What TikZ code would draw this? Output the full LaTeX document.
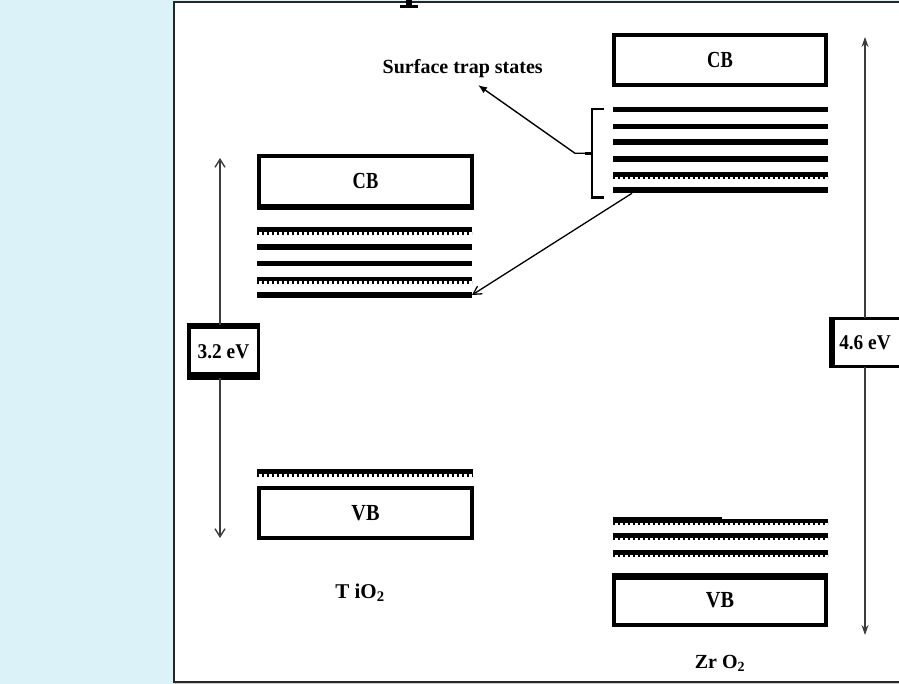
\documentclass[tikz,border=0pt]{standalone}
\usepackage{fontspec}
\setmainfont{Liberation Serif}
\usetikzlibrary{arrows.meta}
\definecolor{panelblue}{RGB}{218,242,248}
\definecolor{arrowgray}{RGB}{60,60,60}
\begin{document}
\begin{tikzpicture}[x=1pt,y=-1pt,
  band/.style={fill=black, draw=none, inner sep=0pt, outer sep=0pt, minimum height=5.5pt, minimum width=215pt},
  tickrow/.style={line width=3pt, dash pattern=on 1.6pt off 3.4pt},
  bandbox/.style={draw=black, fill=white, line width=4pt, inner sep=0pt, outer sep=0pt,
    minimum width=212pt, minimum height=50pt, font=\fontsize{23}{23}\selectfont\bfseries},
  gapbox/.style={draw=black, fill=white, line width=3.5pt, inner sep=0pt, outer sep=0pt,
    font=\fontsize{21}{21}\selectfont\bfseries},
  gaparrow/.style={draw=arrowgray, line width=1.4pt, -{Straight Barb[length=8pt,width=10pt]}},
  zrarrow/.style={draw=arrowgray, line width=1.4pt, -{Stealth[length=10pt,width=7pt]}},
  diagarrow/.style={draw=black, line width=1.3pt, -{Straight Barb[length=8pt,width=9pt]}},
  traparrow/.style={draw=black, line width=1.4pt, -{Latex[length=9pt,width=7pt]}},
  label/.style={font=\fontsize{21}{21}\selectfont\bfseries, inner sep=0pt}
]
\useasboundingbox (0,0) rectangle (899,684);
% background
\fill[panelblue] (0,0) rectangle (899,684);
\fill[white] (174,2.5) rectangle (899,681);
\fill[black!20] (174,682.5) rectangle (899,684);
\draw[line width=2pt, black!85] (899,2) -- (174,2) -- (174,681.5) -- (899,681.5);
% cut-off fragment of a title glyph at the top edge
\fill (405.5,0) rectangle (411.5,6);
\fill (400,5) rectangle (418,8);

% ---------------- TiO2 ----------------
\node[bandbox, minimum width=213pt] (tcb) at (365.5,181.5) {\scalebox{0.8}[1]{CB}};
\fill ([xshift=-2pt]tcb.south west) rectangle ([xshift=2pt,yshift=-4pt]tcb.south east);

\node[band, minimum height=5pt] (t1) at (364.5,230) {};
\node[band] (t2) at (364.5,247) {};
\node[band] (t3) at (364.5,263.7) {};
\node[band, minimum height=4.5pt] (t4) at (364.5,279) {};
\node[band, minimum height=6pt] (t5) at (364.5,295) {};
\draw[tickrow] ([yshift=-1pt]t1.south west) -- ([yshift=-1pt]t1.south east);
\draw[tickrow] ([yshift=-1pt]t4.south west) -- ([yshift=-1pt]t4.south east);

\node[band, minimum width=216pt, minimum height=5pt] (t6) at (365,471.8) {};
\draw[tickrow] ([yshift=-1pt]t6.south west) -- ([yshift=-1pt]t6.south east);

\node[bandbox, minimum width=213pt] (tvb) at (365.5,513) {\scalebox{0.88}[1]{VB}};
\fill ([xshift=-2pt]tvb.south west) rectangle ([xshift=2pt,yshift=-2pt]tvb.south east);

\node[label] (tlab) at (360,593) {T iO\textsubscript{2}};

% 3.2 eV gap
\node[gapbox, minimum width=69.5pt, minimum height=53.5pt] (eg1) at (223.5,351.5) {\scalebox{0.92}[1]{3.2 eV}};
\fill ([xshift=-1.75pt,yshift=1.75pt]eg1.north west) rectangle ([xshift=1.75pt,yshift=-4.75pt]eg1.north east);
\fill ([xshift=-1.75pt,yshift=6.25pt]eg1.south west) rectangle ([xshift=1.75pt,yshift=-1.75pt]eg1.south east);
\coordinate (t32top) at (220,158);
\coordinate (t32bot) at (220,538);
\draw[gaparrow] (eg1.north -| t32top) -- (t32top);
\draw[gaparrow] (eg1.south -| t32bot) -- (t32bot);

% ---------------- ZrO2 ----------------
\node[bandbox] (zcb) at (720,60) {\scalebox{0.8}[1]{CB}};

\node[band] (z1) at (720.5,109.3) {};
\node[band] (z2) at (720.5,126.3) {};
\node[band, minimum height=6.5pt] (z3) at (720.5,142) {};
\node[band, minimum height=6.5pt] (z4) at (720.5,159) {};
\node[band, minimum height=5pt] (z5) at (720.5,174.3) {};
\node[band, minimum height=6.5pt] (z6) at (720.5,190) {};
\draw[tickrow] ([yshift=-1pt]z5.south west) -- ([yshift=-1pt]z5.south east);

\node[band, minimum height=3.5pt] (v1) at (720.5,521) {};
\fill (613,517) rectangle (722,521);
\node[band, minimum height=4.5pt] (v2) at (720.5,535.5) {};
\node[band, minimum height=4.5pt] (v3) at (720.5,552.3) {};
\draw[tickrow] ([yshift=-1pt]v1.south west) -- ([yshift=-1pt]v1.south east);
\draw[tickrow] ([yshift=-1pt]v2.south west) -- ([yshift=-1pt]v2.south east);
\draw[tickrow] ([yshift=-1pt]v3.south west) -- ([yshift=-1pt]v3.south east);

\node[bandbox] (zvb) at (720,600) {\scalebox{0.88}[1]{VB}};
\fill ([xshift=-2pt,yshift=2pt]zvb.north west) rectangle ([xshift=2pt,yshift=-5pt]zvb.north east);

\node[label, font=\fontsize{20}{20}\selectfont\bfseries] (zlab) at (720,663.3) {Zr O\textsubscript{2}};

% 4.6 eV gap
\node[gapbox, line width=3pt, minimum width=69pt, minimum height=48.5pt] (eg2) at (866.5,342.5) {\hspace*{-3pt}\scalebox{0.92}[1]{4.6 eV}};
\fill ([xshift=-3pt,yshift=1.5pt]eg2.north west) rectangle ([xshift=3pt,yshift=-1.5pt]eg2.south west);
\coordinate (z46top) at (865,37);
\coordinate (z46bot) at (865,635);
\draw[zrarrow] (eg2.north -| z46top) -- (z46top);
\draw[zrarrow] (eg2.south -| z46bot) -- (z46bot);

% surface trap bracket
\coordinate (brtop) at (591.7,109);
\coordinate (brbot) at (591.7,198);
\coordinate (brmid) at (591.7,153.3);
\coordinate (knee) at (575,153.3);
\draw[line width=2pt] ([xshift=12pt]brtop) -- (brtop) -- (brbot) -- ([xshift=12pt]brbot);
\draw[line width=3pt] (brbot) -- ([xshift=12pt]brbot);
\draw[line width=3pt] (brmid) -- ([xshift=-7pt]brmid);

\node[font=\fontsize{20}{20}\selectfont\bfseries, inner sep=0pt] (sts) at (462.7,69) {Surface trap states};
\coordinate (ststip) at (478,85);
\draw[traparrow] (brmid) -- (knee) -- (ststip);

% transfer arrow
\draw[diagarrow] ([xshift=19pt]z6.south west) -- (t5.east);
\end{tikzpicture}
\end{document}
